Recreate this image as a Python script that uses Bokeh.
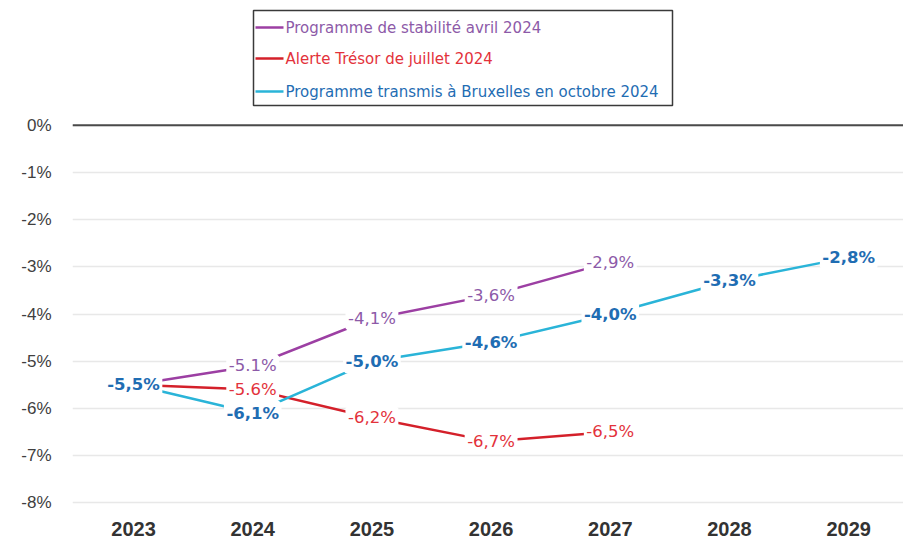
from bokeh.plotting import figure
from bokeh.models import (ColumnDataSource, LabelSet, Range1d, FixedTicker,
                          PrintfTickFormatter, Span)
from bokeh.layouts import column
from bokeh.embed import file_html
from bokeh.resources import INLINE
from bokeh.core.properties import value

# ---- data ----
years = [2023, 2024, 2025, 2026, 2027, 2028, 2029]
series_names = ["Programme de stabilité avril 2024",
                "Alerte Trésor de juillet 2024",
                "Programme transmis à Bruxelles en octobre 2024"]
ps_years = [2023, 2024, 2025, 2026, 2027]
ps_vals = [-5.5, -5.1, -4.1, -3.6, -2.9]
ps_lbls = ["-5,5%", "-5.1%", "-4,1%", "-3,6%", "-2,9%"]
at_years = [2023, 2024, 2025, 2026, 2027]
at_vals = [-5.5, -5.6, -6.2, -6.7, -6.5]
at_lbls = ["-5,5%", "-5.6%", "-6,2%", "-6,7%", "-6,5%"]
br_years = [2023, 2024, 2025, 2026, 2027, 2028, 2029]
br_vals = [-5.5, -6.1, -5.0, -4.6, -4.0, -3.3, -2.8]
br_lbls = ["-5,5%", "-6,1%", "-5,0%", "-4,6%", "-4,0%", "-3,3%", "-2,8%"]
y_ticks = [0, -1, -2, -3, -4, -5, -6, -7, -8]

line_colors = ["#9c3fa3", "#d4202a", "#2ab4d8"]
text_colors = ["#8d5aa8", "#e3323b", "#1f6db3"]

LBL_FONT = "DejaVu Sans"
AX_FONT = "Liberation Sans"

W = 903
LEFT = 72
LH = 113

# ---- legend panel (top); coordinates are page pixels ----
leg = figure(width=W, height=LH, output_backend="svg", toolbar_location=None,
             x_range=Range1d(LEFT, W), y_range=Range1d(0, LH),
             min_border=0, min_border_left=LEFT, outline_line_color=None)
leg.axis.visible = False
leg.grid.visible = False
leg.quad(left=[253], right=[672], bottom=[LH - 105], top=[LH - 10],
         fill_color=None, line_color="#3a3a3a", line_width=1.5)
row_y = [27, 58, 91]
for i, name in enumerate(series_names):
    leg.segment(x0=[255], x1=[283], y0=[LH - row_y[i]], y1=[LH - row_y[i]],
                line_color=line_colors[i], line_width=2.5)
    leg.text(x=[285], y=[LH - row_y[i]], text=[name], text_color=text_colors[i],
             text_font=value(LBL_FONT), text_font_size="15px",
             text_baseline="middle", text_align="left")

# ---- main chart ----
p = figure(width=W, height=548 - LH, output_backend="svg", toolbar_location=None,
           x_range=Range1d(2022.488, 2029.46), y_range=Range1d(-8.25, 0.25),
           min_border_top=0, min_border_left=LEFT, min_border_right=0,
           min_border_bottom=34, outline_line_color=None)

p.xaxis.ticker = FixedTicker(ticks=years)
p.yaxis.ticker = FixedTicker(ticks=y_ticks)
p.yaxis.formatter = PrintfTickFormatter(format="%d%%")
for ax in (p.xaxis, p.yaxis):
    ax.axis_line_color = None
    ax.major_tick_line_color = None
    ax.minor_tick_line_color = None
p.yaxis.major_label_text_font = AX_FONT
p.yaxis.major_label_text_font_size = "17px"
p.yaxis.major_label_text_color = "#404040"
p.yaxis.major_label_standoff = 15
p.xaxis.major_label_text_font = AX_FONT
p.xaxis.major_label_text_font_size = "20px"
p.xaxis.major_label_text_font_style = "bold"
p.xaxis.major_label_text_color = "#333333"
p.xaxis.major_label_standoff = 1
p.xgrid.grid_line_color = None
p.ygrid.grid_line_color = "#e8e8e8"
p.ygrid.grid_line_width = 1.5
p.add_layout(Span(location=0, dimension="width", line_color="#4a4a4a", line_width=2))

data = [(ps_years, ps_vals, ps_lbls), (at_years, at_vals, at_lbls), (br_years, br_vals, br_lbls)]
for i, (xs, ys, _) in enumerate(data):
    p.line(xs, ys, line_color=line_colors[i], line_width=2.5)

for i, (xs, ys, ls) in enumerate(data):
    start = 0 if i == 2 else 1
    src = ColumnDataSource(dict(x=xs[start:], y=ys[start:], t=ls[start:]))
    p.add_layout(LabelSet(x="x", y="y", text="t", source=src,
                          text_align="center", text_baseline="middle",
                          text_font=value(LBL_FONT), text_font_size="16.5px",
                          text_font_style="bold" if i == 2 else "normal",
                          text_color=text_colors[i],
                          background_fill_color="white",
                          border_line_color="white", border_line_width=5))

layout = column(leg, p, spacing=0)
open("out.html", "w").write(file_html(layout, INLINE))
